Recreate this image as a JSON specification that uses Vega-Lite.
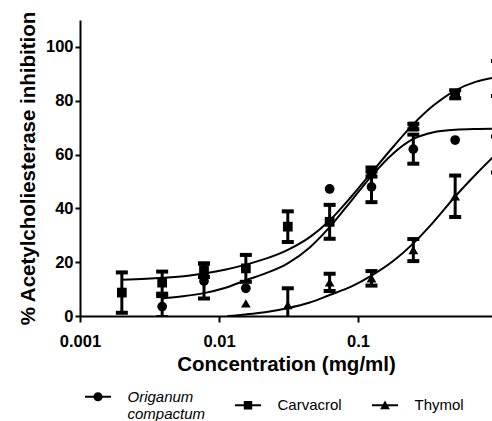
{
  "$schema": "https://vega.github.io/schema/vega-lite/v6.json",
  "width": 412,
  "height": 296,
  "autosize": {"type": "none"},
  "padding": {"left": 80, "top": 20, "right": 0, "bottom": 105},
  "background": "white",
  "config": {
    "view": {"stroke": null},
    "font": "Liberation Sans",
    "axis": {
      "grid": false,
      "domainColor": "black",
      "domainWidth": 2,
      "tickColor": "black",
      "tickWidth": 2,
      "labelColor": "black",
      "labelFont": "Liberation Sans",
      "labelFontSize": 16.5,
      "labelFontWeight": "bold",
      "titleColor": "black",
      "titleFont": "Liberation Sans",
      "titleFontSize": 20.5,
      "titleFontWeight": "bold"
    }
  },
  "datasets": {
    "points": [
      {"series": "Carvacrol", "x": 0.002, "y": 8.7, "err": 7.5},
      {"series": "Carvacrol", "x": 0.0039, "y": 12.4, "err": 4.1},
      {"series": "Carvacrol", "x": 0.0078, "y": 17, "err": 2.5},
      {"series": "Carvacrol", "x": 0.0156, "y": 17.7, "err": 5},
      {"series": "Carvacrol", "x": 0.03125, "y": 33.2, "err": 5.7},
      {"series": "Carvacrol", "x": 0.0625, "y": 35, "err": 6.3},
      {"series": "Carvacrol", "x": 0.125, "y": 53.5, "err": 1.7},
      {"series": "Carvacrol", "x": 0.25, "y": 70.4, "err": 1},
      {"series": "Carvacrol", "x": 0.5, "y": 82.4, "err": 1.5},
      {"series": "Carvacrol", "x": 1.0, "y": 88.3, "err": 6.5},
      {"series": "Origanum compactum", "x": 0.0039, "y": 3.5, "err": 3.9},
      {"series": "Origanum compactum", "x": 0.0078, "y": 13, "err": 6.5},
      {"series": "Origanum compactum", "x": 0.0156, "y": 10.3, "err": 0},
      {"series": "Origanum compactum", "x": 0.0625, "y": 47.2, "err": 0},
      {"series": "Origanum compactum", "x": 0.125, "y": 48, "err": 5.7},
      {"series": "Origanum compactum", "x": 0.25, "y": 62, "err": 5.4},
      {"series": "Origanum compactum", "x": 0.5, "y": 65.4, "err": 0},
      {"series": "Thymol", "x": 0.0156, "y": 4.7, "err": 0},
      {"series": "Thymol", "x": 0.03125, "y": 4.1, "err": 6.2},
      {"series": "Thymol", "x": 0.0625, "y": 12.5, "err": 3.2},
      {"series": "Thymol", "x": 0.125, "y": 14, "err": 2.7},
      {"series": "Thymol", "x": 0.25, "y": 24.5, "err": 4.1},
      {"series": "Thymol", "x": 0.5, "y": 44.5, "err": 7.7},
      {"series": "Thymol", "x": 1.0, "y": 60, "err": 6.7}
    ],
    "curves": [
      {"series": "Carvacrol", "x": 0.002, "y": 13.5},
      {"series": "Carvacrol", "x": 0.003, "y": 13.8},
      {"series": "Carvacrol", "x": 0.004, "y": 14.2},
      {"series": "Carvacrol", "x": 0.006, "y": 15.0},
      {"series": "Carvacrol", "x": 0.008, "y": 15.9},
      {"series": "Carvacrol", "x": 0.011, "y": 17.2},
      {"series": "Carvacrol", "x": 0.0156, "y": 19.1},
      {"series": "Carvacrol", "x": 0.022, "y": 21.4},
      {"series": "Carvacrol", "x": 0.031, "y": 24.5},
      {"series": "Carvacrol", "x": 0.045, "y": 29.3},
      {"series": "Carvacrol", "x": 0.0625, "y": 35.5},
      {"series": "Carvacrol", "x": 0.09, "y": 44.5},
      {"series": "Carvacrol", "x": 0.125, "y": 53.3},
      {"series": "Carvacrol", "x": 0.18, "y": 63.0},
      {"series": "Carvacrol", "x": 0.25, "y": 71.3},
      {"series": "Carvacrol", "x": 0.35, "y": 78.3},
      {"series": "Carvacrol", "x": 0.5, "y": 83.8},
      {"series": "Carvacrol", "x": 0.7, "y": 87.0},
      {"series": "Carvacrol", "x": 1.0, "y": 88.8},
      {"series": "Origanum compactum", "x": 0.0039, "y": 6.5},
      {"series": "Origanum compactum", "x": 0.0055, "y": 7.3},
      {"series": "Origanum compactum", "x": 0.0078, "y": 8.5},
      {"series": "Origanum compactum", "x": 0.011, "y": 10.4},
      {"series": "Origanum compactum", "x": 0.0156, "y": 13.3},
      {"series": "Origanum compactum", "x": 0.022, "y": 16.0},
      {"series": "Origanum compactum", "x": 0.031, "y": 19.5},
      {"series": "Origanum compactum", "x": 0.045, "y": 25.5},
      {"series": "Origanum compactum", "x": 0.0625, "y": 33.0},
      {"series": "Origanum compactum", "x": 0.09, "y": 43.0},
      {"series": "Origanum compactum", "x": 0.125, "y": 52.0},
      {"series": "Origanum compactum", "x": 0.18, "y": 60.5},
      {"series": "Origanum compactum", "x": 0.25, "y": 65.8},
      {"series": "Origanum compactum", "x": 0.35, "y": 68.3},
      {"series": "Origanum compactum", "x": 0.5, "y": 69.2},
      {"series": "Origanum compactum", "x": 0.7, "y": 69.5},
      {"series": "Origanum compactum", "x": 1.0, "y": 69.6},
      {"series": "Thymol", "x": 0.0115, "y": 0},
      {"series": "Thymol", "x": 0.0156, "y": 0.6},
      {"series": "Thymol", "x": 0.022, "y": 1.5},
      {"series": "Thymol", "x": 0.031, "y": 2.9},
      {"series": "Thymol", "x": 0.045, "y": 5.0},
      {"series": "Thymol", "x": 0.0625, "y": 7.8},
      {"series": "Thymol", "x": 0.09, "y": 11.0},
      {"series": "Thymol", "x": 0.125, "y": 15.0},
      {"series": "Thymol", "x": 0.18, "y": 20.5},
      {"series": "Thymol", "x": 0.25, "y": 27.0},
      {"series": "Thymol", "x": 0.35, "y": 35.0},
      {"series": "Thymol", "x": 0.5, "y": 44.4},
      {"series": "Thymol", "x": 0.7, "y": 52.5},
      {"series": "Thymol", "x": 1.0, "y": 60.5}
    ]
  },
  "layer": [
    {
      "data": {"name": "curves"},
      "mark": {"type": "line", "color": "black", "strokeWidth": 2, "interpolate": "monotone", "clip": true},
      "encoding": {
        "x": {
          "field": "x", "type": "quantitative",
          "title": "Concentration (mg/ml)",
          "scale": {"type": "log", "domain": [0.001, 0.9204], "nice": false},
          "axis": {
            "values": [0.001, 0.01, 0.1],
            "format": "~g",
            "tickSize": 6,
            "labelPadding": 11,
            "titlePadding": 5,
            "labelFlush": false
          }
        },
        "y": {
          "field": "y", "type": "quantitative",
          "title": "% Acetylcholiesterase inhibition",
          "scale": {"domain": [0, 110], "nice": false},
          "axis": {
            "values": [0, 20, 40, 60, 80, 100],
            "tickSize": 5,
            "labelPadding": 2,
            "titlePadding": 7
          }
        },
        "detail": {"field": "series", "type": "nominal"}
      }
    },
    {
      "data": {"name": "points"},
      "transform": [{"filter": "datum.err > 0"}],
      "mark": {
        "type": "errorbar",
        "color": "black",
        "opacity": 1,
        "thickness": 3,
        "rule": {"opacity": 1, "color": "black"},
        "ticks": {"size": 12, "thickness": 4, "color": "black", "opacity": 1},
        "clip": true
      },
      "encoding": {
        "x": {"field": "x", "type": "quantitative", "title": "Concentration (mg/ml)"},
        "y": {"field": "y", "type": "quantitative", "title": "% Acetylcholiesterase inhibition"},
        "yError": {"field": "err"}
      }
    },
    {
      "data": {"name": "points"},
      "mark": {"type": "point", "filled": true, "color": "black", "opacity": 1, "size": 95},
      "encoding": {
        "x": {"field": "x", "type": "quantitative", "title": "Concentration (mg/ml)"},
        "y": {"field": "y", "type": "quantitative", "title": "% Acetylcholiesterase inhibition"},
        "shape": {
          "field": "series", "type": "nominal",
          "scale": {"domain": ["Origanum compactum", "Carvacrol", "Thymol"], "range": ["circle", "square", "triangle-up"]},
          "legend": null
        }
      }
    },
    {
      "data": {"name": "points"},
      "transform": [{"filter": "datum.x < 0"}],
      "mark": {"type": "point", "filled": true, "fill": "black"},
      "encoding": {
        "x": {"field": "x", "type": "quantitative", "title": "Concentration (mg/ml)"},
        "y": {"field": "y", "type": "quantitative", "title": "% Acetylcholiesterase inhibition"},
        "shape": {
          "field": "series", "type": "nominal",
          "scale": {
            "domain": ["Origanum compactum", "Carvacrol", "Thymol"],
            "range": [
              "M-2,-0.16H2V0.16H-2ZM0.7,0A0.7,0.7,0,1,1,-0.7,0A0.7,0.7,0,1,1,0.7,0Z",
              "M-2,-0.16H2V0.16H-2ZM-0.65,-0.65H0.65V0.65H-0.65Z",
              "M-2,-0.16H2V0.16H-2ZM0,-0.75L0.75,0.6H-0.75Z"
            ]
          },
          "legend": {
            "title": null,
            "orient": "none",
            "legendX": 10.5,
            "legendY": 369,
            "direction": "horizontal",
            "columns": 3,
            "columnPadding": 29,
            "symbolSize": 169,
            "symbolStrokeWidth": 0,
            "symbolFillColor": "black",
            "symbolOpacity": 1,
            "labelFont": "Liberation Sans",
            "labelFontSize": 15,
            "labelColor": "black",
            "labelOffset": 22,
            "labelLimit": 200,
            "labelExpr": "datum.value == 'Origanum compactum' ? ['Origanum', 'compactum'] : datum.label",
            "labelFontStyle": {"expr": "datum.value == 'Origanum compactum' ? 'italic' : 'normal'"}
          }
        }
      }
    }
  ],
  "resolve": {"scale": {"shape": "independent"}}
}
